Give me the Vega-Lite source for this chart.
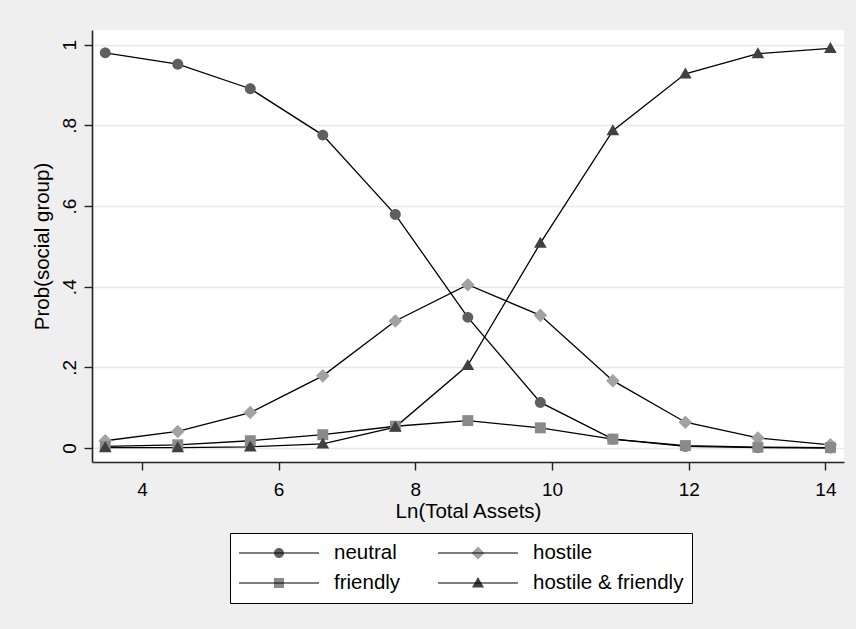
{
  "$schema": "https://vega.github.io/schema/vega-lite/v6.json",
  "width": 752,
  "height": 432,
  "autosize": "none",
  "padding": {"left": 92, "top": 30, "right": 12, "bottom": 167},
  "background": "#efefef",
  "config": {
    "view": {"fill": "white", "stroke": null},
    "font": "Liberation Sans",
    "axis": {
      "domainColor": "#222222",
      "domainWidth": 1.6,
      "tickColor": "#222222",
      "tickWidth": 1.4,
      "tickSize": 8,
      "labelFont": "Liberation Sans",
      "labelFontSize": 19,
      "labelColor": "black",
      "titleFont": "Liberation Sans",
      "titleFontSize": 20.5,
      "titleFontWeight": "normal",
      "titleColor": "black",
      "gridColor": "#e8e8e8",
      "gridWidth": 1.5
    },
    "legend": {
      "title": null,
      "orient": "none",
      "legendX": 138,
      "legendY": 503,
      "direction": "horizontal",
      "columns": 2,
      "padding": 8,
      "strokeColor": "black",
      "fillColor": "white",
      "symbolSize": 6400,
      "symbolStrokeWidth": 1.2,
      "symbolStrokeColor": "black",
      "symbolDash": [0, 80, 160, 1000],
      "symbolOpacity": 1,
      "symbolOffset": 0,
      "clipHeight": 24,
      "rowPadding": 6,
      "columnPadding": 36,
      "labelOffset": 14,
      "labelFont": "Liberation Sans",
      "labelFontSize": 20.5,
      "labelColor": "black",
      "labelLimit": 400
    }
  },
  "data": {
    "values": [
      {"x": 3.463, "p": 0.980, "series": "neutral"},
      {"x": 4.524, "p": 0.952, "series": "neutral"},
      {"x": 5.585, "p": 0.891, "series": "neutral"},
      {"x": 6.646, "p": 0.776, "series": "neutral"},
      {"x": 7.707, "p": 0.579, "series": "neutral"},
      {"x": 8.768, "p": 0.324, "series": "neutral"},
      {"x": 9.829, "p": 0.113, "series": "neutral"},
      {"x": 10.89, "p": 0.022, "series": "neutral"},
      {"x": 11.951, "p": 0.004, "series": "neutral"},
      {"x": 13.012, "p": 0.001, "series": "neutral"},
      {"x": 14.073, "p": 0.000, "series": "neutral"},
      {"x": 3.463, "p": 0.018, "series": "hostile"},
      {"x": 4.524, "p": 0.041, "series": "hostile"},
      {"x": 5.585, "p": 0.088, "series": "hostile"},
      {"x": 6.646, "p": 0.179, "series": "hostile"},
      {"x": 7.707, "p": 0.315, "series": "hostile"},
      {"x": 8.768, "p": 0.405, "series": "hostile"},
      {"x": 9.829, "p": 0.329, "series": "hostile"},
      {"x": 10.89, "p": 0.167, "series": "hostile"},
      {"x": 11.951, "p": 0.064, "series": "hostile"},
      {"x": 13.012, "p": 0.025, "series": "hostile"},
      {"x": 14.073, "p": 0.008, "series": "hostile"},
      {"x": 3.463, "p": 0.004, "series": "friendly"},
      {"x": 4.524, "p": 0.008, "series": "friendly"},
      {"x": 5.585, "p": 0.018, "series": "friendly"},
      {"x": 6.646, "p": 0.033, "series": "friendly"},
      {"x": 7.707, "p": 0.054, "series": "friendly"},
      {"x": 8.768, "p": 0.068, "series": "friendly"},
      {"x": 9.829, "p": 0.050, "series": "friendly"},
      {"x": 10.89, "p": 0.022, "series": "friendly"},
      {"x": 11.951, "p": 0.006, "series": "friendly"},
      {"x": 13.012, "p": 0.002, "series": "friendly"},
      {"x": 14.073, "p": 0.001, "series": "friendly"},
      {"x": 3.463, "p": 0.001, "series": "hostile & friendly"},
      {"x": 4.524, "p": 0.001, "series": "hostile & friendly"},
      {"x": 5.585, "p": 0.003, "series": "hostile & friendly"},
      {"x": 6.646, "p": 0.010, "series": "hostile & friendly"},
      {"x": 7.707, "p": 0.052, "series": "hostile & friendly"},
      {"x": 8.768, "p": 0.205, "series": "hostile & friendly"},
      {"x": 9.829, "p": 0.508, "series": "hostile & friendly"},
      {"x": 10.89, "p": 0.787, "series": "hostile & friendly"},
      {"x": 11.951, "p": 0.928, "series": "hostile & friendly"},
      {"x": 13.012, "p": 0.978, "series": "hostile & friendly"},
      {"x": 14.073, "p": 0.991, "series": "hostile & friendly"}
    ]
  },
  "encoding": {
    "x": {
      "field": "x",
      "type": "quantitative",
      "scale": {"domain": [3.269, 14.272], "nice": false, "zero": false},
      "axis": {
        "values": [4, 6, 8, 10, 12, 14],
        "title": "Ln(Total Assets)",
        "grid": false,
        "labelPadding": 10,
        "titlePadding": 2
      }
    },
    "y": {
      "field": "p",
      "type": "quantitative",
      "scale": {"domain": [-0.0347, 1.0367], "nice": false, "zero": false},
      "axis": {
        "values": [0, 0.2, 0.4, 0.6, 0.8, 1],
        "title": "Prob(social group)",
        "grid": true,
        "labelAngle": -90,
        "labelAlign": "center",
        "labelBaseline": "alphabetic",
        "labelPadding": 9,
        "labelExpr": "datum.value == 0 ? '0' : datum.value == 1 ? '1' : replace(format(datum.value, '.1f'), '0.', '.')",
        "titlePadding": 8
      }
    }
  },
  "layer": [
    {
      "mark": {"type": "line", "color": "black", "strokeWidth": 1.3},
      "encoding": {"detail": {"field": "series", "type": "nominal"}}
    },
    {
      "mark": {"type": "point", "filled": true, "opacity": 1, "size": 480},
      "encoding": {
        "shape": {
          "field": "series",
          "type": "nominal",
          "scale": {
            "domain": ["neutral", "hostile", "friendly", "hostile & friendly"],
            "range": [
              "M0.5,0A0.5,0.5,0,1,1,-0.5,0A0.5,0.5,0,1,1,0.5,0Z",
              "M0,-0.62L0.62,0L0,0.62L-0.62,0Z",
              "M-0.5,-0.5L0.5,-0.5L0.5,0.5L-0.5,0.5Z",
              "M0,-0.58L0.58,0.42L-0.58,0.42Z"
            ]
          },
          "legend": null
        },
        "fill": {
          "field": "series",
          "type": "nominal",
          "scale": {
            "domain": ["neutral", "hostile", "friendly", "hostile & friendly"],
            "range": ["#5f5f5f", "#a2a2a2", "#8a8a8a", "#404040"]
          },
          "legend": null
        }
      }
    },
    {
      "mark": {
        "type": "point",
        "filled": true,
        "opacity": 0,
        "size": 6400,
        "strokeWidth": 1.2,
        "strokeDash": [0, 80, 160, 1000]
      },
      "encoding": {
        "shape": {
          "field": "series",
          "type": "nominal",
          "scale": {
            "domain": ["neutral", "hostile", "friendly", "hostile & friendly"],
            "range": [
              "M0.125,0A0.125,0.125,0,1,1,-0.125,0A0.125,0.125,0,1,1,0.125,0ZM1,0L-1,0L1,0L-1,0",
              "M0,-0.1625L0.1625,0L0,0.1625L-0.1625,0ZM1,0L-1,0L1,0L-1,0",
              "M-0.125,-0.125L0.125,-0.125L0.125,0.125L-0.125,0.125ZM1,0L-1,0L1,0L-1,0",
              "M0,-0.15L0.15,0.1125L-0.15,0.1125ZM1,0L-1,0L1,0L-1,0"
            ]
          }
        },
        "fill": {
          "field": "series",
          "type": "nominal",
          "scale": {
            "domain": ["neutral", "hostile", "friendly", "hostile & friendly"],
            "range": ["#5f5f5f", "#a2a2a2", "#8a8a8a", "#404040"]
          }
        },
        "stroke": {
          "field": "series",
          "type": "nominal",
          "scale": {
            "domain": ["neutral", "hostile", "friendly", "hostile & friendly"],
            "range": ["black", "black", "black", "black"]
          }
        }
      }
    }
  ],
  "resolve": {"scale": {"shape": "independent", "fill": "independent", "stroke": "independent"}}
}
